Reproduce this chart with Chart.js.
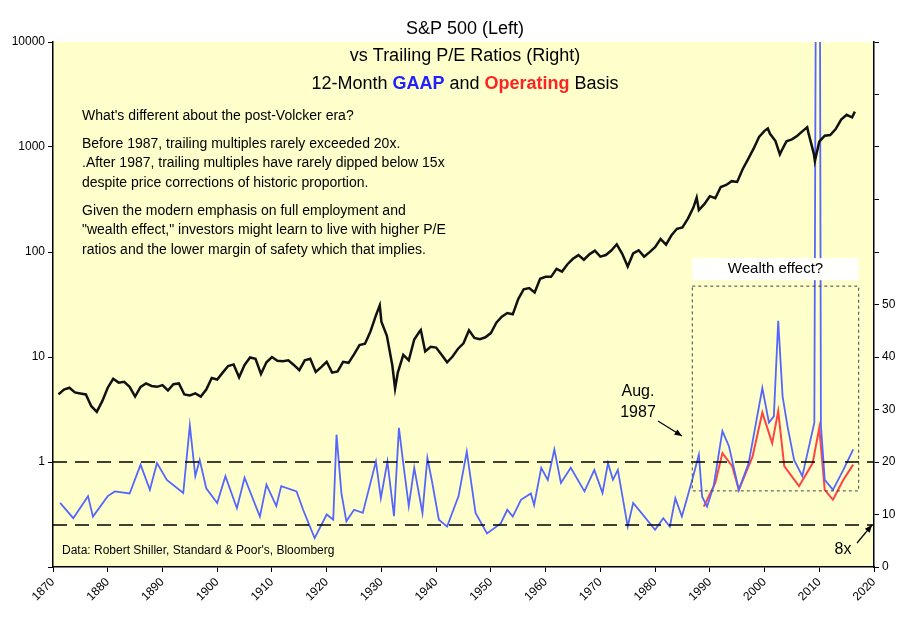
<!DOCTYPE html>
<html>
<head>
<meta charset="utf-8">
<script src="https://cdn.jsdelivr.net/npm/chart.js@4/dist/chart.umd.min.js"></script>
<style>
  body { margin: 0; background: #fff; }
  canvas { display: block; }
</style>
</head>
<body>
<canvas id="c" width="911" height="623"></canvas>
<script>
// S&P 500 level (left, log scale)
const spYears = [1871,1872,1873,1874,1875,1876,1877,1878,1879,1880,1881,1882,1883,1884,1885,1886,1887,1888,1889,1890,
  1891,1892,1893,1894,1895,1896,1897,1898,1899,1900,1901,1902,1903,1904,1905,1906,1907,1908,1909,1910,
  1911,1912,1913,1914,1915,1916,1917,1918,1919,1920,1921,1922,1923,1924,1925,1926,1927,1928,1929,1929.7,
  1930,1931,1932,1932.5,1933,1934,1935,1936,1937,1937.2,1938,1939,1940,1941,1942,1943,1944,1945,1946,1947,
  1948,1949,1950,1951,1952,1953,1954,1955,1956,1957,1958,1959,1960,1961,1962,1963,1964,1965,1966,1967,
  1968,1969,1970,1971,1972,1973,1974,1975,1976,1977,1978,1979,1980,1981,1982,1983,1984,1985,1986,1987,
  1987.6,1988,1989,1990,1991,1992,1993,1994,1995,1996,1997,1998,1999,2000,2000.6,2001,2002,2002.8,2003,2004,
  2005,2006,2007,2007.8,2008,2009,2009.2,2010,2011,2012,2013,2014,2015,2016,2016.5]
const spValues = [4.4,4.9,5.1,4.6,4.5,4.4,3.4,3.0,3.8,5.1,6.2,5.7,5.8,5.2,4.2,5.2,5.6,5.3,5.2,5.4,
  4.8,5.5,5.6,4.4,4.3,4.5,4.2,4.9,6.3,6.1,7.1,8.2,8.5,6.4,8.4,9.9,9.6,6.9,8.9,10.0,
  9.2,9.1,9.3,8.4,7.5,9.3,9.6,7.2,8.0,9.0,7.1,7.3,9.0,8.8,10.6,13.0,13.4,17.5,24.9,31.0,
  21.7,15.9,8.3,5.0,7.1,10.5,9.3,14.7,17.6,18.1,11.3,12.5,12.3,10.5,8.9,10.1,12.0,13.5,18.0,15.2,
  14.8,15.4,16.9,21.2,24.2,26.2,25.5,35.6,44.2,45.4,41.1,55.6,58.0,58.0,69.1,65.1,76.5,86.1,93.3,84.4,
  95.0,103.0,90.3,93.5,103.3,118.4,96.1,72.6,96.9,103.8,90.3,99.7,110.9,133.0,117.3,144.3,166.4,171.6,208.2,264.5,
  330,250.5,285.4,340,325.5,416.1,435.2,473,465.3,614.4,766.2,963.4,1248.8,1425.6,1500,1335.6,1140.2,850,895.8,1132.5,
  1181.4,1278.7,1424.2,1540,1378.8,865.6,735,1123.6,1282.6,1300.6,1480.4,1822.4,2028.2,1918.6,2170]

// Trailing P/E, GAAP basis (right)
const gaapYears = [1871.3,1873.7,1876.4,1877.3,1880,1881.3,1884,1886,1887.7,1889,1890.8,1893.8,1895,1896,1896.8,1898,1900,1901.5,1903.6,1905,
  1907.8,1909,1910.8,1911.7,1914.5,1915.7,1917.8,1920,1921.2,1921.8,1922.7,1923.6,1925,1926.6,1929,1929.9,1931.1,1932.3,1933.2,1934.1,
  1935,1936,1937.5,1938.4,1939.3,1940.5,1942,1944.1,1945.6,1947.2,1949.3,1951.8,1953,1954,1955.5,1957.3,1957.9,1959.2,1960.4,1961.6,
  1962.8,1964.6,1967.1,1968.9,1970.4,1971.4,1972.3,1973.2,1975,1976,1977.5,1980,1981.5,1982.7,1983.7,1984.9,1986.8,1988,1988.6,1989.5,
  1990.7,1992.3,1993.5,1995.3,1997.1,1999.6,2000.8,2001.7,2002.5,2003.3,2004.2,2005.4,2006.9,2009.1,2009.4,2009.7,2010.1,2010.3,2011,2012.5,2014.4,2016.2]
const gaapValues = [12.2,9.3,13.5,9.6,13.5,14.4,14.0,19.5,14.7,19.8,16.6,14.1,27.0,17.3,20.4,15.0,12.2,17.3,11.2,17.0,
  9.6,15.7,11.6,15.4,14.4,10.9,5.5,10.0,9.0,25.2,14.0,8.7,10.9,10.3,20.1,13.1,20.1,9.7,26.5,18.9,
  11.6,18.9,10.3,20.8,16.0,9.0,7.7,13.5,22.0,10.3,6.4,8.3,10.9,9.6,12.8,14.0,11.8,18.9,16.6,22.4,
  16.0,18.9,14.4,18.5,14.1,19.8,16.6,18.5,7.7,12.2,10.3,7.1,9.3,7.7,13.1,9.6,16.6,21.4,13.4,11.5,
  15.4,25.9,23.0,14.7,19.8,34.1,27.5,28.7,46.9,32.5,26.8,20.4,17.3,27.5,120,110,120,27,16.6,14.7,18.5,22.4]

// Trailing P/E, operating basis (right)
const opYears = [1988.9,1991,1992.3,1994.1,1995.3,1997.8,1999.6,2001.4,2002.5,2003.6,2006.3,2008.8,2010,2011,2012.5,2014.4,2016.2]
const opValues = [11.5,16.0,21.7,19.2,14.7,21.0,29.4,23.6,29.7,19.2,15.4,19.8,26.5,14.7,12.8,16.6,19.5]

const xTicks = [1870,1880,1890,1900,1910,1920,1930,1940,1950,1960,1970,1980,1990,2000,2010,2020]
const leftTicks = [0.1,1,10,100,1000,10000]

const zip = (xs, ys) => xs.map((x, i) => ({ x, y: ys[i] }))

const FONT = '"Liberation Sans", Arial, sans-serif'

const decorPlugin = {
    id: 'decor',
    beforeDraw(chart) {
        const { ctx, chartArea: a } = chart
        ctx.save()
        ctx.fillStyle = '#fff'
        ctx.fillRect(0, 0, chart.width, chart.height)
        ctx.fillStyle = '#FFFFCC'
        ctx.fillRect(a.left, a.top, a.right - a.left, a.bottom - a.top)
        ctx.restore()
    },
    afterDatasetsDraw(chart) {
        const { ctx, scales } = chart
        const x = scales.x, r = scales.y2
        ctx.save()
        // dashed reference lines at 20x and 8x
        ctx.strokeStyle = '#000'
        ctx.lineWidth = 1.3
        ctx.setLineDash([14, 8])
        for (const pe of [20, 8]) {
            ctx.beginPath()
            ctx.moveTo(chart.chartArea.left, r.getPixelForValue(pe))
            ctx.lineTo(chart.chartArea.right, r.getPixelForValue(pe))
            ctx.stroke()
        }
        // wealth effect box
        const bx1 = x.getPixelForValue(1986.8), bx2 = x.getPixelForValue(2017.2)
        const by1 = r.getPixelForValue(53.5), by2 = r.getPixelForValue(14.5)
        ctx.strokeStyle = '#444'
        ctx.lineWidth = 1
        ctx.setLineDash([3, 3])
        ctx.strokeRect(bx1, by1, bx2 - bx1, by2 - by1)
        ctx.setLineDash([])
        ctx.fillStyle = '#fff'
        ctx.fillRect(bx1, by1 - 28, bx2 - bx1, 22)
        ctx.fillStyle = '#000'
        ctx.font = '15px ' + FONT
        ctx.textAlign = 'center'
        ctx.textBaseline = 'middle'
        ctx.fillText('Wealth effect?', (bx1 + bx2) / 2, by1 - 17)

        // Aug. 1987 annotation
        ctx.font = '16px ' + FONT
        ctx.fillText('Aug.', 638, 392)
        ctx.fillText('1987', 638, 413)
        drawArrow(ctx, 658, 421, 682, 436)
        ctx.fillText('8x', 843, 550)
        drawArrow(ctx, 857, 543, 872, 525)

        // text block
        ctx.textAlign = 'left'
        ctx.textBaseline = 'alphabetic'
        ctx.font = '14px ' + FONT
        const lines = [
            ["What's different about the post-Volcker era?", 120],
            ['Before 1987, trailing multiples rarely exceeded 20x.', 148],
            ['.After 1987, trailing multiples have rarely dipped below 15x', 167],
            ['despite price corrections of historic proportion.', 187],
            ['Given the modern emphasis on full employment and', 215],
            ['"wealth effect," investors might learn to live with higher P/E', 234],
            ['ratios and the lower margin of safety which that implies.', 254]
        ]
        lines.forEach(([t, y]) => ctx.fillText(t, 82, y))
        ctx.font = '12px ' + FONT
        ctx.fillText("Data: Robert Shiller, Standard & Poor's, Bloomberg", 62, 554)

        // title
        ctx.textAlign = 'center'
        ctx.font = '18px ' + FONT
        ctx.fillText('S&P 500 (Left)', 465, 34)
        ctx.fillText('vs Trailing P/E Ratios (Right)', 465, 61)
        const parts = [['12-Month ', '#000', ''], ['GAAP', '#2222FF', 'bold '], [' and ', '#000', ''], ['Operating', '#FF2222', 'bold '], [' Basis', '#000', '']]
        let total = 0
        parts.forEach(p => { ctx.font = p[2] + '18px ' + FONT; total += ctx.measureText(p[0]).width })
        let px = 465 - total / 2
        ctx.textAlign = 'left'
        parts.forEach(p => {
            ctx.font = p[2] + '18px ' + FONT
            ctx.fillStyle = p[1]
            ctx.fillText(p[0], px, 89)
            px += ctx.measureText(p[0]).width
        })
        ctx.restore()
    }
}

function drawArrow(ctx, x1, y1, x2, y2) {
    ctx.save()
    ctx.strokeStyle = '#000'
    ctx.fillStyle = '#000'
    ctx.lineWidth = 1.2
    ctx.beginPath()
    ctx.moveTo(x1, y1)
    ctx.lineTo(x2, y2)
    ctx.stroke()
    const ang = Math.atan2(y2 - y1, x2 - x1)
    ctx.beginPath()
    ctx.moveTo(x2, y2)
    ctx.lineTo(x2 - 8 * Math.cos(ang - 0.4), y2 - 8 * Math.sin(ang - 0.4))
    ctx.lineTo(x2 - 8 * Math.cos(ang + 0.4), y2 - 8 * Math.sin(ang + 0.4))
    ctx.closePath()
    ctx.fill()
    ctx.restore()
}

const tickFont = { family: FONT, size: 12 }

new Chart(document.getElementById('c'), {
    type: 'line',
    data: {
        datasets: [
            { data: zip(spYears, spValues), yAxisID: 'y', borderColor: '#111', borderWidth: 2.5, pointRadius: 0, tension: 0 },
            { data: zip(gaapYears, gaapValues), yAxisID: 'y2', borderColor: '#5566FF', borderWidth: 1.8, pointRadius: 0, tension: 0 },
            { data: zip(opYears, opValues), yAxisID: 'y2', borderColor: '#FF4444', borderWidth: 2, pointRadius: 0, tension: 0 }
        ]
    },
    options: {
        responsive: false,
        animation: false,
        parsing: false,
        layout: { padding: { top: 42, left: 0, right: 0, bottom: 0 } },
        plugins: { legend: { display: false }, tooltip: { enabled: false } },
        scales: {
            x: {
                type: 'linear', min: 1870, max: 2020,
                afterBuildTicks: s => { s.ticks = xTicks.map(v => ({ value: v })) },
                afterFit: s => { s.height = 56 },
                ticks: { color: '#000', font: tickFont, maxRotation: 45, minRotation: 45, callback: v => String(v) },
                grid: { drawOnChartArea: false, tickLength: 5, color: '#000' },
                border: { color: '#000', width: 1.5 }
            },
            y: {
                type: 'logarithmic', position: 'left', min: 0.1, max: 10000,
                afterBuildTicks: s => { s.ticks = leftTicks.map(v => ({ value: v })) },
                afterFit: s => { s.width = 53 },
                ticks: { color: '#000', font: tickFont, callback: v => v >= 1 ? String(v) : '' },
                grid: { drawOnChartArea: false, tickLength: 5, color: '#000' },
                border: { color: '#000', width: 1.5 }
            },
            y2: {
                type: 'linear', position: 'right', min: 0, max: 100,
                ticks: { stepSize: 10, color: '#000', font: tickFont, callback: v => v <= 50 ? String(v) : '' },
                afterFit: s => { s.width = 37 },
                grid: { drawOnChartArea: false, tickLength: 5, color: '#000' },
                border: { color: '#000', width: 1.5 }
            }
        }
    },
    plugins: [decorPlugin]
})
</script>
</body>
</html>
